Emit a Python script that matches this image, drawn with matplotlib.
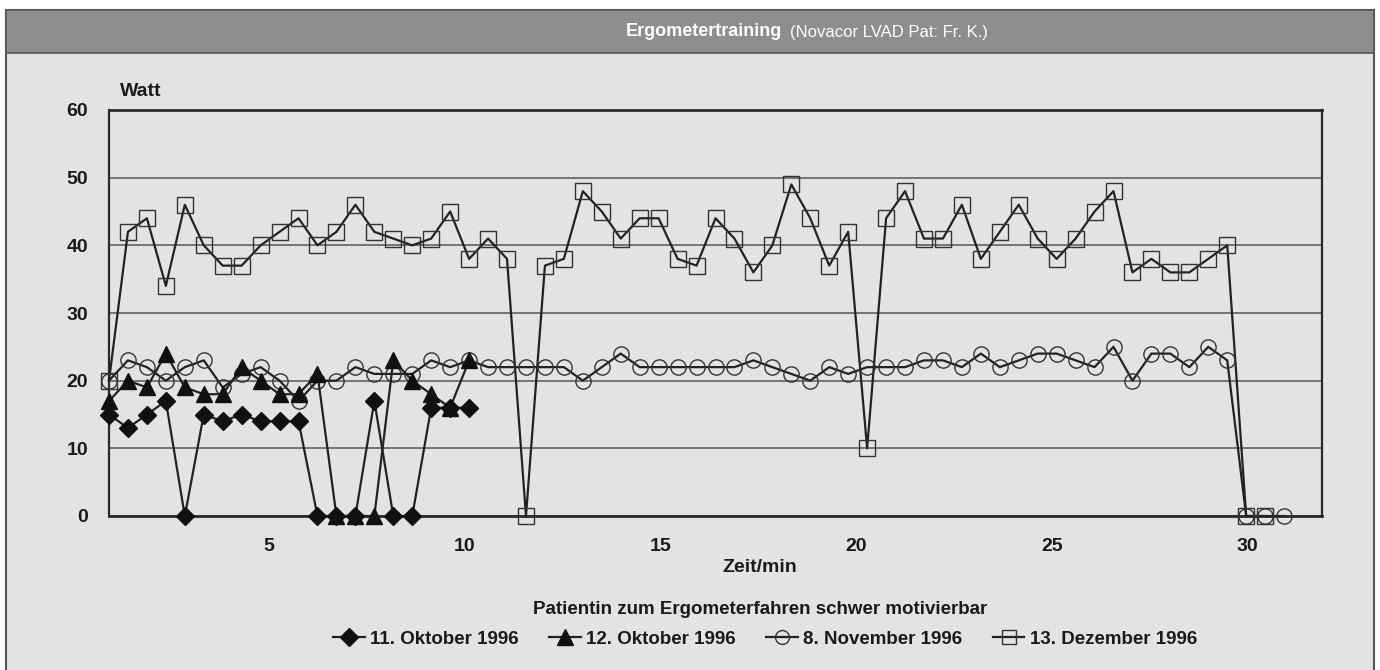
import matplotlib
matplotlib.use("Agg")
import matplotlib.pyplot as plt
from matplotlib.patches import Rectangle
from matplotlib.lines import Line2D
import numpy as np

plt.rcParams['font.family'] = ['Liberation Sans Narrow', 'Liberation Sans', 'DejaVu Sans']

# ---------------- data (Watt per measurement, 30 s apart) ----------------
okt11 = [15, 13, 15, 17, 0, 15, 14, 15, 14, 14, 14, 0, 0, 0, 17, 0, 0, 16, 16, 16]
okt12 = [17, 20, 19, 24, 19, 18, 18, 22, 20, 18, 18, 21, 0, 0, 0, 23, 20, 18, 16, 23]
nov8 = [20, 23, 22, 20, 22, 23, 19, 21, 22, 20, 17, 20, 20, 22, 21, 21, 21, 23, 22, 23,
        22, 22, 22, 22, 22, 20, 22, 24, 22, 22, 22, 22, 22, 22, 23, 22, 21, 20, 22, 21,
        22, 22, 22, 23, 23, 22, 24, 22, 23, 24, 24, 23, 22, 25, 20, 24, 24, 22, 25, 23,
        0, 0, 0]
dez13 = [20, 42, 44, 34, 46, 40, 37, 37, 40, 42, 44, 40, 42, 46, 42, 41, 40, 41, 45, 38,
         41, 38, 0, 37, 38, 48, 45, 41, 44, 44, 38, 37, 44, 41, 36, 40, 49, 44, 37, 42,
         10, 44, 48, 41, 41, 46, 38, 42, 46, 41, 38, 41, 45, 48, 36, 38, 36, 36, 38, 40,
         0, 0]
series_labels = ["11. Oktober 1996", "12. Oktober 1996", "8. November 1996", "13. Dezember 1996"]
minute_ticks = [5, 10, 15, 20, 25, 30]
y_ticks = [0, 10, 20, 30, 40, 50, 60]
title_bold = "Ergometertraining"
title_rest = "(Novacor LVAD Pat: Fr. K.)"
x_label = "Zeit/min"
y_label = "Watt"
note = "Patientin zum Ergometerfahren schwer motivierbar"

# ---------------- figure ----------------
W, H = 1380, 670
fig = plt.figure(figsize=(W / 100, H / 100), dpi=100, facecolor='white')

def fx(px):
    return px / W

def fy(py):
    return 1 - py / H

bg = '#e3e3e3'
fig.patches.append(Rectangle((fx(6), fy(672)), fx(1374) - fx(6), fy(10) - fy(672),
                             transform=fig.transFigure, facecolor=bg, edgecolor='#555555',
                             linewidth=1.5, zorder=-2))
fig.patches.append(Rectangle((fx(6), fy(53)), fx(1374) - fx(6), fy(10) - fy(53),
                             transform=fig.transFigure, facecolor='#8e8e8e', edgecolor='#555555',
                             linewidth=1.2, zorder=-1))

fig.text(fx(782), fy(32), title_bold, color='white', fontsize=13, fontweight='bold',
         ha='right', va='center')
fig.text(fx(790), fy(32), title_rest, color='white', fontsize=12, ha='left', va='center')

ax = fig.add_axes([fx(109), fy(516), fx(1322) - fx(109), fy(110) - fy(516)])
ax.set_zorder(2)
ax.set_facecolor('none')

idx_step_min = 0.484   # minutes per sample spacing on the drawn axis
idx_origin_min = 0.922

def to_idx(t):
    return (np.asarray(t, dtype=float) - idx_origin_min) / idx_step_min

lc = '#222222'
ms = 10
ax.plot(np.arange(len(dez13)), dez13, color=lc, lw=1.6, marker='s', ms=ms + 1,
        mfc='none', mec='#333333', mew=1.0, zorder=3, clip_on=False)
ax.plot(np.arange(len(nov8)), nov8, color=lc, lw=1.6, marker='o', ms=ms + 1,
        mfc='none', mec='#333333', mew=1.0, zorder=3, clip_on=False)
ax.plot(np.arange(len(okt12)), okt12, color=lc, lw=1.6, marker='^', ms=ms + 1,
        mfc='#111111', mec='#111111', zorder=4, clip_on=False)
ax.plot(np.arange(len(okt11)), okt11, color=lc, lw=1.6, marker='D', ms=ms - 1,
        mfc='#111111', mec='#111111', zorder=5, clip_on=False)

ax.set_xlim(0, 64)
ax.set_ylim(0, 60)
ax.set_yticks(y_ticks)
ax.set_yticklabels([str(v) for v in y_ticks])
ax.set_xticks(to_idx(minute_ticks))
ax.set_xticklabels([str(v) for v in minute_ticks])
ax.tick_params(axis='both', length=0, labelsize=14, colors='#1a1a1a')
ax.tick_params(axis='y', pad=15)
ax.tick_params(axis='x', pad=16)
for lab in ax.get_xticklabels() + ax.get_yticklabels():
    lab.set_fontweight('bold')
ax.yaxis.grid(True, color='#555555', lw=1.1)
ax.set_axisbelow(True)
for s in ['top', 'bottom']:
    ax.spines[s].set_linewidth(2.0)
    ax.spines[s].set_color('#2a2a2a')
for s in ['left', 'right']:
    ax.spines[s].set_linewidth(1.6)
    ax.spines[s].set_color('#2a2a2a')

fig.text(fx(120), fy(91), y_label, fontsize=14, fontweight='bold', ha='left', va='center',
         color='#1a1a1a')
fig.text(fx(760), fy(568), x_label, fontsize=14, fontweight='bold', ha='center', va='center',
         color='#1a1a1a')
fig.text(fx(760), fy(609), note, fontsize=13.5, fontweight='bold', ha='center', va='center',
         color='#1a1a1a')

handles = [
    Line2D([], [], color=lc, lw=1.6, marker='D', ms=ms - 1, mfc='#111111', mec='#111111'),
    Line2D([], [], color=lc, lw=1.6, marker='^', ms=ms + 1, mfc='#111111', mec='#111111'),
    Line2D([], [], color=lc, lw=1.6, marker='o', ms=ms, mfc='none', mec='#333333'),
    Line2D([], [], color=lc, lw=1.6, marker='s', ms=ms, mfc='none', mec='#333333'),
]
leg = fig.legend(handles, series_labels, loc='center', bbox_to_anchor=(fx(765), fy(639)),
                 ncol=4, frameon=False, handlelength=1.7, handletextpad=0.3,
                 columnspacing=1.6, prop={'size': 13.5, 'weight': 'bold'})
for t in leg.get_texts():
    t.set_color('#1a1a1a')

fig.savefig('out.png', dpi=100, facecolor='white')
